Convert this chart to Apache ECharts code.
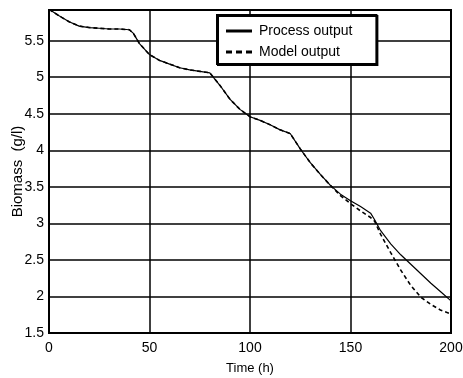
<!DOCTYPE html>
<html>
<head>
<meta charset="utf-8">
<script src="https://cdn.jsdelivr.net/npm/echarts@6/dist/echarts.min.js"></script>
<style>
  html, body { margin: 0; padding: 0; background: #fff; }
  #chart { width: 463px; height: 378px; }
</style>
</head>
<body>
<div id="chart"></div>
<script>
// time samples (h)
const timeH = [0, 5, 10, 15, 20, 25, 30, 35, 40, 42, 45, 50, 55, 60, 65, 70, 75, 80, 85, 90,
  95, 100, 105, 110, 115, 120, 125, 130, 135, 140, 145, 150, 155, 160, 162, 165, 170, 175,
  180, 185, 190, 195, 200];

// biomass (g/l)
const processOutput = [5.93, 5.84, 5.76, 5.70, 5.68, 5.67, 5.66, 5.66, 5.65, 5.60, 5.46, 5.31,
  5.23, 5.18, 5.13, 5.10, 5.08, 5.06, 4.89, 4.70, 4.56, 4.46, 4.41, 4.35, 4.28, 4.23, 4.02,
  3.83, 3.67, 3.52, 3.40, 3.31, 3.23, 3.14, 3.05, 2.90, 2.72, 2.57, 2.44, 2.31, 2.18, 2.06, 1.94];

const modelOutput = [5.93, 5.84, 5.76, 5.70, 5.68, 5.67, 5.66, 5.66, 5.65, 5.60, 5.46, 5.31,
  5.23, 5.18, 5.13, 5.10, 5.08, 5.06, 4.89, 4.70, 4.56, 4.46, 4.41, 4.35, 4.28, 4.23, 4.02,
  3.83, 3.67, 3.52, 3.38, 3.27, 3.17, 3.08, 3.03, 2.85, 2.60, 2.36, 2.15, 1.99, 1.89, 1.81, 1.76];

const chart = echarts.init(document.getElementById('chart'));

const font = 'Liberation Sans, Arial, sans-serif';

// legend glyphs: solid bar and three dashes
const solidIcon = 'path://M0,0h26v3h-26z';
const dashIcon = 'path://M0,0h6v3h-6z M10,0h6v3h-6z M20,0h6v3h-6z';

const option = {
  animation: false,
  textStyle: { fontFamily: font, color: '#000' },
  grid: {
    left: 49,
    right: 12,
    top: 10,
    bottom: 45,
    outerBoundsMode: 'none',
    show: true,
    borderColor: '#000',
    borderWidth: 2
  },
  legend: {
    orient: 'vertical',
    left: 217,
    top: 15,
    padding: [9, 24, 5, 9],
    itemWidth: 26,
    itemHeight: 3,
    itemGap: 7,
    backgroundColor: '#fff',
    borderColor: '#000',
    borderWidth: 2,
    shadowColor: '#000',
    shadowOffsetX: 1,
    shadowOffsetY: 1,
    shadowBlur: 0,
    textStyle: { fontFamily: font, fontSize: 14, color: '#000', padding: [0, 0, 0, 2], lineHeight: 14 },
    data: [
      { name: 'Process output', icon: solidIcon },
      { name: 'Model output', icon: dashIcon }
    ]
  },
  xAxis: {
    type: 'value',
    min: 0,
    max: 200,
    interval: 50,
    name: 'Time (h)',
    nameLocation: 'middle',
    nameGap: 29,
    nameMoveOverlap: false,
    nameTextStyle: { fontSize: 13, color: '#000' },
    axisLine: { show: true, lineStyle: { color: '#000', width: 2 } },
    axisTick: { show: false },
    axisLabel: { fontSize: 14, color: '#000', margin: 8 },
    splitLine: { show: true, lineStyle: { color: '#000', width: 1.5 } }
  },
  yAxis: {
    type: 'value',
    min: 1.5,
    max: 5.92,
    interval: 0.5,
    name: 'Biomass  (g/l)',
    nameLocation: 'middle',
    nameGap: 24,
    nameMoveOverlap: false,
    nameTextStyle: { fontSize: 15, color: '#000' },
    axisLine: { show: true, lineStyle: { color: '#000', width: 2 } },
    axisTick: { show: false },
    axisLabel: { fontSize: 14, color: '#000', margin: 5, showMaxLabel: false },
    splitLine: { show: true, lineStyle: { color: '#000', width: 1.5 } }
  },
  series: [
    {
      name: 'Process output',
      type: 'line',
      symbol: 'none',
      data: timeH.map((t, i) => [t, processOutput[i]]),
      lineStyle: { color: '#000', width: 1.2 },
      itemStyle: { color: '#000' }
    },
    {
      name: 'Model output',
      type: 'line',
      symbol: 'none',
      data: timeH.map((t, i) => [t, modelOutput[i]]),
      lineStyle: { color: '#000', width: 1.6, type: [4, 3] },
      itemStyle: { color: '#000' }
    }
  ]
};

chart.setOption(option);
</script>
</body>
</html>
